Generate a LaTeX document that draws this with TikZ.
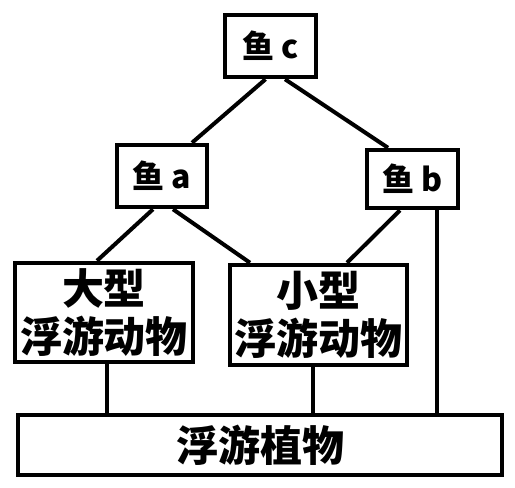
\documentclass[tikz,border=0pt]{standalone}
\usepackage{fontspec}
\newfontfamily\cjk{Noto Sans CJK SC}
\begin{document}
\begin{tikzpicture}[x=1pt,y=-1pt,
  box/.style={draw=black,line width=4.5pt,rectangle,inner sep=0pt,font=\cjk\bfseries,align=center},
  fishfont/.style={font=\cjk\bfseries\fontsize{32}{36}\selectfont},
  planktonfont/.style={font=\cjk\bfseries\fontsize{42}{48}\selectfont},
  link/.style={line width=4pt}]
\useasboundingbox (0,0) rectangle (515,488);
\node[box,fishfont,minimum width=91pt,minimum height=62pt] (c) at (270.5,46) {鱼 c};
\node[box,fishfont,minimum width=90pt,minimum height=62pt] (a) at (162,176) {鱼 a};
\node[box,fishfont,minimum width=91pt,minimum height=58pt] (b) at (412.5,179) {鱼 b};
\node[box,planktonfont,minimum width=178pt,minimum height=99pt] (big) at (104,312.5) {大型\\浮游动物};
\node[box,planktonfont,minimum width=177pt,minimum height=100pt] (small) at (318.5,315) {小型\\浮游动物};
\node[box,planktonfont,minimum width=484pt,minimum height=60pt] (phyto) at (260,445) {浮游植物};
\draw[link] ([xshift=-5pt]c.south) -- ([xshift=30pt]a.north);
\draw[link] ([xshift=14.5pt]c.south) -- ([xshift=-24.5pt]b.north);
\draw[link] ([xshift=-9pt]a.south) -- ([xshift=-7pt]big.north);
\draw[link] ([xshift=11pt]a.south) -- ([xshift=-68.5pt]small.north);
\draw[link] ([xshift=-12.5pt]b.south) -- ([xshift=28.5pt]small.north);
\draw[link] ([xshift=24.5pt]b.south) -- ([xshift=24.5pt]b.south |- phyto.north);
\draw[link] ([xshift=3pt]big.south) -- ([xshift=3pt]big.south |- phyto.north);
\draw[link] ([xshift=-5.5pt]small.south) -- ([xshift=-5.5pt]small.south |- phyto.north);
\end{tikzpicture}
\end{document}
